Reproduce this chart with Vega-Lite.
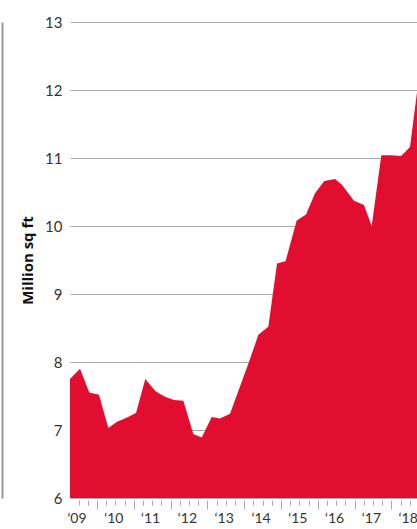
{
  "$schema": "https://vega.github.io/schema/vega-lite/v6.json",
  "width": 347,
  "height": 476,
  "autosize": {"type": "none"},
  "padding": {"left": 70, "top": 22, "right": 0, "bottom": 31},
  "background": "white",
  "config": {
    "view": {"stroke": null},
    "font": "Lato"
  },
  "data": {
    "values": [
      {"t": 2009.269, "v": 7.75},
      {"t": 2009.541, "v": 7.90},
      {"t": 2009.793, "v": 7.55},
      {"t": 2010.057, "v": 7.52},
      {"t": 2010.310, "v": 7.03},
      {"t": 2010.546, "v": 7.12},
      {"t": 2010.804, "v": 7.18},
      {"t": 2011.063, "v": 7.25},
      {"t": 2011.315, "v": 7.75},
      {"t": 2011.592, "v": 7.57},
      {"t": 2011.851, "v": 7.49},
      {"t": 2012.095, "v": 7.44},
      {"t": 2012.348, "v": 7.43},
      {"t": 2012.620, "v": 6.94},
      {"t": 2012.848, "v": 6.89},
      {"t": 2013.120, "v": 7.19},
      {"t": 2013.345, "v": 7.17},
      {"t": 2013.617, "v": 7.24},
      {"t": 2013.875, "v": 7.62},
      {"t": 2014.120, "v": 7.98},
      {"t": 2014.386, "v": 8.40},
      {"t": 2014.658, "v": 8.52},
      {"t": 2014.894, "v": 9.45},
      {"t": 2015.125, "v": 9.48},
      {"t": 2015.429, "v": 10.08},
      {"t": 2015.682, "v": 10.17},
      {"t": 2015.927, "v": 10.48},
      {"t": 2016.179, "v": 10.66},
      {"t": 2016.470, "v": 10.69},
      {"t": 2016.652, "v": 10.61},
      {"t": 2016.832, "v": 10.48},
      {"t": 2016.986, "v": 10.37},
      {"t": 2017.258, "v": 10.31},
      {"t": 2017.467, "v": 10.00},
      {"t": 2017.728, "v": 11.04},
      {"t": 2017.992, "v": 11.04},
      {"t": 2018.264, "v": 11.03},
      {"t": 2018.508, "v": 11.16},
      {"t": 2018.753, "v": 12.2}
    ]
  },
  "layer": [
    {
      "mark": {"type": "area", "color": "#e20e30", "clip": true},
      "encoding": {
        "x": {
          "field": "t",
          "type": "quantitative",
          "scale": {"domain": [2009.269, 2018.698], "nice": false, "zero": false},
          "axis": {
            "orient": "bottom",
            "title": null,
            "values": [2009.25, 2009.5, 2009.75, 2010.25, 2010.5, 2010.75, 2011.25, 2011.5, 2011.75, 2012.25, 2012.5, 2012.75, 2013.25, 2013.5, 2013.75, 2014.25, 2014.5, 2014.75, 2015.25, 2015.5, 2015.75, 2016.25, 2016.5, 2016.75, 2017.25, 2017.5, 2017.75, 2018.25, 2018.5],
            "labelExpr": "datum.value % 1 == 0.5 ? '‘' + slice(toString(floor(datum.value)), 2) : ''",
            "domain": false,
            "grid": false,
            "ticks": true,
            "offset": 2,
            "tickColor": "#aaaaaa",
            "tickWidth": 1,
            "tickSize": 5,
            "labelPadding": 6,
            "labelOffset": -2,
            "labelFontSize": 14,
            "labelColor": "#333333",
            "labelFlush": false,
            "labelOverlap": false,
            "labelBound": false
          }
        },
        "y": {
          "field": "v",
          "type": "quantitative",
          "scale": {"domain": [6, 13], "nice": false, "zero": false},
          "axis": {
            "title": "Million sq ft",
            "titleFont": "Open Sans",
            "titleFontSize": 15,
            "titleFontWeight": "bold",
            "titleColor": "#111111",
            "titlePadding": 9,
            "values": [6, 7, 8, 9, 10, 11, 12, 13],
            "domain": false,
            "ticks": false,
            "tickSize": 0,
            "labelPadding": 8,
            "labelFontSize": 15,
            "labelColor": "#333333",
            "gridColor": "#aaaaaa",
            "gridWidth": 1
          }
        }
      }
    },
    {
      "mark": {"type": "line", "opacity": 0, "clip": true},
      "encoding": {
        "x": {
          "field": "t",
          "type": "quantitative",
          "axis": {
            "orient": "bottom",
            "title": null,
            "values": [2010, 2011, 2012, 2013, 2014, 2015, 2016, 2017, 2018],
            "labels": false,
            "domain": false,
            "grid": false,
            "ticks": true,
            "offset": 2,
            "tickColor": "#aaaaaa",
            "tickWidth": 1,
            "tickSize": 9
          }
        },
        "y": {
          "field": "v",
          "type": "quantitative",
          "axis": {
            "orient": "left",
            "offset": 68,
            "title": null,
            "labels": false,
            "ticks": false,
            "grid": false,
            "domain": true,
            "domainColor": "#999999",
            "domainWidth": 2
          }
        }
      }
    }
  ],
  "resolve": {"axis": {"x": "independent", "y": "independent"}}
}
